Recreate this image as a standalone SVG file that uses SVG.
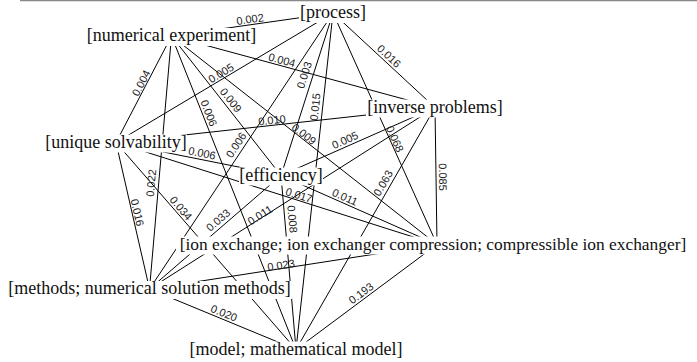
<svg xmlns="http://www.w3.org/2000/svg" width="697" height="362" viewBox="0 0 697 362">
<style>
.e line{stroke:#000;stroke-width:1}
.el{font-family:"Liberation Sans",Arial,sans-serif;font-size:11px;fill:#222;text-anchor:middle}
.n rect{fill:#fff}
.n text{font-family:"Liberation Serif","Times New Roman",serif;font-size:18px;fill:#111;text-anchor:middle}
</style>
<rect width="697" height="362" fill="#fff"/>
<line x1="20" y1="0.5" x2="697" y2="0.5" stroke="#888" stroke-width="1.5"/>
<g id="connectors" class="e">
<line x1="333" y1="13" x2="171.5" y2="36"/>
<line x1="333" y1="13" x2="435" y2="107.5"/>
<line x1="333" y1="13" x2="116" y2="142.5"/>
<line x1="333" y1="13" x2="281" y2="175.5"/>
<line x1="333" y1="13" x2="437" y2="244.5"/>
<line x1="333" y1="13" x2="149.5" y2="289"/>
<line x1="333" y1="13" x2="296" y2="349.5"/>
<line x1="171.5" y1="36" x2="435" y2="107.5"/>
<line x1="171.5" y1="36" x2="116" y2="142.5"/>
<line x1="171.5" y1="36" x2="281" y2="175.5"/>
<line x1="171.5" y1="36" x2="437" y2="244.5"/>
<line x1="171.5" y1="36" x2="149.5" y2="289"/>
<line x1="171.5" y1="36" x2="296" y2="349.5"/>
<line x1="435" y1="107.5" x2="116" y2="142.5"/>
<line x1="435" y1="107.5" x2="281" y2="175.5"/>
<line x1="435" y1="107.5" x2="437" y2="244.5"/>
<line x1="435" y1="107.5" x2="149.5" y2="289"/>
<line x1="435" y1="107.5" x2="296" y2="349.5"/>
<line x1="116" y1="142.5" x2="281" y2="175.5"/>
<line x1="116" y1="142.5" x2="437" y2="244.5"/>
<line x1="116" y1="142.5" x2="149.5" y2="289"/>
<line x1="116" y1="142.5" x2="296" y2="349.5"/>
<line x1="281" y1="175.5" x2="437" y2="244.5"/>
<line x1="281" y1="175.5" x2="149.5" y2="289"/>
<line x1="281" y1="175.5" x2="296" y2="349.5"/>
<line x1="437" y1="244.5" x2="149.5" y2="289"/>
<line x1="437" y1="244.5" x2="296" y2="349.5"/>
<line x1="149.5" y1="289" x2="296" y2="349.5"/>
</g>
<g id="edge-labels">
<text class="el" transform="translate(250,19) rotate(-8.1)" dy="4">0.002</text>
<text class="el" transform="translate(389,56) rotate(42.8)" dy="4">0.016</text>
<text class="el" transform="translate(141,83) rotate(-62.5)" dy="4">0.004</text>
<text class="el" transform="translate(221,73) rotate(-30.8)" dy="4">0.005</text>
<text class="el" transform="translate(209,113) rotate(68.3)" dy="4">0.006</text>
<text class="el" transform="translate(231,100) rotate(51.9)" dy="4">0.009</text>
<text class="el" transform="translate(282,60) rotate(15.2)" dy="4">0.004</text>
<text class="el" transform="translate(304,75) rotate(-72.3)" dy="4">0.003</text>
<text class="el" transform="translate(315,107) rotate(-83.7)" dy="4">0.015</text>
<text class="el" transform="translate(272,120) rotate(-6.3)" dy="4">0.010</text>
<text class="el" transform="translate(304,134) rotate(38.1)" dy="4">0.009</text>
<text class="el" transform="translate(236,145) rotate(-56.4)" dy="4">0.006</text>
<text class="el" transform="translate(202,153) rotate(11.3)" dy="4">0.006</text>
<text class="el" transform="translate(345,140) rotate(-23.8)" dy="4">0.005</text>
<text class="el" transform="translate(395,139) rotate(65.8)" dy="4">0.068</text>
<text class="el" transform="translate(443,177) rotate(89.2)" dy="4">0.085</text>
<text class="el" transform="translate(260,215) rotate(-32.4)" dy="4">0.011</text>
<text class="el" transform="translate(383,183) rotate(-60.1)" dy="4">0.063</text>
<text class="el" transform="translate(151,183) rotate(-85)" dy="4">0.022</text>
<text class="el" transform="translate(137.5,212.5) rotate(77.1)" dy="4">0.016</text>
<text class="el" transform="translate(181,208) rotate(49)" dy="4">0.034</text>
<text class="el" transform="translate(218,220) rotate(-40.8)" dy="4">0.033</text>
<text class="el" transform="translate(299,195) rotate(17.6)" dy="4">0.017</text>
<text class="el" transform="translate(345,197) rotate(23.9)" dy="4">0.011</text>
<text class="el" transform="translate(292.5,219) rotate(85.1)" dy="4">0.008</text>
<text class="el" transform="translate(281,265) rotate(-8.8)" dy="4">0.023</text>
<text class="el" transform="translate(361,293) rotate(-36.7)" dy="4">0.193</text>
<text class="el" transform="translate(224,313) rotate(22.4)" dy="4">0.020</text>
</g>
<g id="node-process" class="n"><rect x="299" y="5" width="68" height="18"/><text x="333" y="18">[process]</text></g>
<g id="node-numerical-experiment" class="n"><rect x="86" y="28" width="171" height="18"/><text x="171.5" y="41">[numerical experiment]</text></g>
<g id="node-inverse-problems" class="n"><rect x="366" y="99.5" width="138" height="18"/><text x="435" y="112.5">[inverse problems]</text></g>
<g id="node-unique-solvability" class="n"><rect x="45" y="134.5" width="142" height="18"/><text x="116" y="147.5">[unique solvability]</text></g>
<g id="node-efficiency" class="n"><rect x="239" y="167.5" width="84" height="18"/><text x="281" y="180.5">[efficiency]</text></g>
<g id="node-ion-exchange" class="n"><rect x="176" y="236.5" width="514" height="18"/><text x="433" y="249.5" style="font-size:17.4px">[ion exchange; ion exchanger compression; compressible ion exchanger]</text></g>
<g id="node-methods" class="n"><rect x="7" y="281" width="285" height="18"/><text x="149.5" y="294">[methods; numerical solution methods]</text></g>
<g id="node-model" class="n"><rect x="189" y="341.5" width="215" height="18"/><text x="296" y="354.5">[model; mathematical model]</text></g>
</svg>
